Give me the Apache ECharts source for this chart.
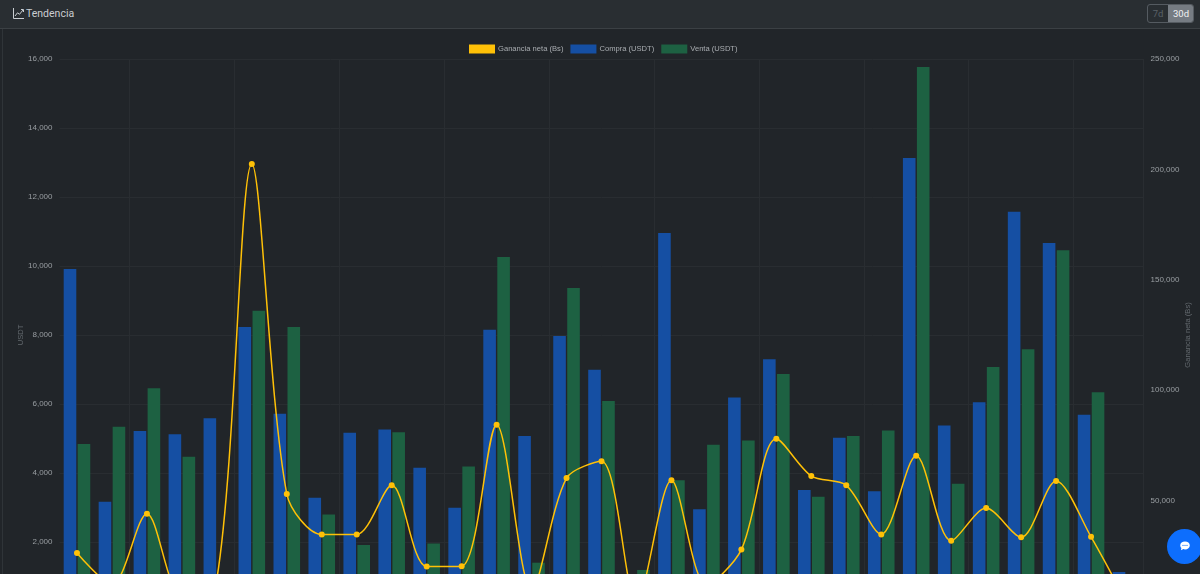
<!DOCTYPE html>
<html>
<head>
<meta charset="utf-8">
<script src="https://cdn.jsdelivr.net/npm/echarts@6/dist/echarts.min.js"></script>
<style>
html,body{margin:0;padding:0;width:1200px;height:574px;overflow:hidden;background:#212529;font-family:"Liberation Sans",Arial,sans-serif}
#chart{position:absolute;left:0;top:0;width:1200px;height:660px}
#head{position:absolute;left:0;top:0;width:1200px;height:28px;background:#292e32;border-bottom:1px solid #3b4044;z-index:2}
#edge{position:absolute;left:2px;top:29px;width:1px;height:545px;background:#2f3438;z-index:2}
#title{position:absolute;left:26px;top:6px;font:10.5px/16px Roboto,"Noto Sans",sans-serif;color:#c9cdd1}
#ico{position:absolute;left:13px;top:8px}
#btns{position:absolute;left:1147px;top:4px;width:47px;height:19px;border:1px solid #555b61;border-radius:3px;box-sizing:border-box;overflow:hidden;font:9.5px/17px Roboto,"Noto Sans",sans-serif}
#b7{position:absolute;left:0;top:0;width:20px;height:17px;text-align:center;color:#5a6167}
#b30{position:absolute;left:20px;top:0;width:26px;height:17px;text-align:center;color:#f1f2f3;background:#767c83}
#fab{position:absolute;left:1167px;top:529px;width:35px;height:35px;border-radius:50%;background:#0d6efd;z-index:3}
#fab svg{position:absolute;left:13px;top:12px}
</style>
</head>
<body>
<div id="chart"></div>
<div id="head">
  <svg id="ico" width="11" height="11" viewBox="0 0 11 11"><path d="M.5 0V10.5H11" fill="none" stroke="#c9cdd1" stroke-width="1"/><path d="M2 8L4.5 4.8 6.5 6.3 10 2" fill="none" stroke="#c9cdd1" stroke-width="1"/><path d="M8 1.5H10.5V4" fill="none" stroke="#c9cdd1" stroke-width="1"/></svg>
  <div id="title">Tendencia</div>
  <div id="btns"><div id="b7">7d</div><div id="b30">30d</div></div>
</div>
<div id="edge"></div>
<div id="fab"><svg width="10" height="10" viewBox="0 0 10 10"><path d="M5 .5C2.3.5.2 2.2.2 4.4c0 1 .5 1.9 1.2 2.6L.9 9.3l2.5-1.2c.5.2 1 .3 1.6.3 2.7 0 4.8-1.8 4.8-4S7.7.5 5 .5z" fill="#fff"/><circle cx="3" cy="4.4" r=".55" fill="#0d6efd"/><circle cx="5" cy="4.4" r=".55" fill="#0d6efd"/><circle cx="7" cy="4.4" r=".55" fill="#0d6efd"/></svg></div>
<script>
const categories = ['1','2','3','4','5','6','7','8','9','10','11','12','13','14','15','16','17','18','19','20','21','22','23','24','25','26','27','28','29','30','31'];
const gananciaNeta = [26300,12000,44100,7000,14500,202400,53000,34600,34650,56900,20100,20250,84400,9500,60200,67800,4000,59200,11800,27800,78000,61100,56900,34700,70300,31800,46600,33400,58900,33600,4500];
const compra = [9910,3170,5220,5120,5590,8230,5720,3280,5170,5260,4150,2990,8150,5070,7970,6990,800,10960,2950,6190,7300,3510,5020,3470,13130,5380,6050,11570,10670,5690,1130];
const venta = [4840,5340,6460,4470,900,8700,8230,2800,1910,5180,1960,4190,10260,1400,9360,6090,1190,3790,4820,4940,6870,3310,5070,5230,15770,3690,7070,7590,10460,6340,500];
const yTicksLeft = {min:0,max:16000,interval:2000};
const yTicksRight = {min:0,max:250000,interval:50000};
const fmt = v => v.toLocaleString('en-US');
const labelFont = '"Liberation Sans",Arial,sans-serif';
const chart = echarts.init(document.getElementById('chart'), null, {renderer:'canvas'});
chart.setOption({
  animation:false,
  backgroundColor:'#212529',
  legend:{
    left:464, top:39.5, itemWidth:26, itemHeight:9, itemGap:7,
    icon:'rect',
    data:['Ganancia neta (Bs)','Compra (USDT)','Venta (USDT)'],
    textStyle:{color:'#a9adb1',fontSize:7.6,fontFamily:labelFont,padding:[0,0,0,-2]}
  },
  grid:{left:59.5,top:59,width:1084,height:552,outerBoundsMode:'none'},
  xAxis:{
    type:'category',data:categories,
    axisLine:{show:false},axisTick:{show:false},axisLabel:{show:false},
    splitLine:{show:true,interval:i=>i%3===2,lineStyle:{color:'#292d31',width:1}}
  },
  yAxis:[
    {type:'value',...yTicksLeft,position:'left',name:'USDT',nameLocation:'middle',nameGap:35,nameMoveOverlap:false,
     nameTextStyle:{color:'#62686d',fontSize:7.6,fontFamily:labelFont},
     axisLine:{show:false},axisTick:{show:false},
     axisLabel:{color:'#9a9fa3',fontSize:8,margin:7,formatter:fmt,fontFamily:labelFont},
     splitLine:{lineStyle:{color:'#292d31',width:1}}},
    {type:'value',...yTicksRight,position:'right',name:'Ganancia neta (Bs)',nameLocation:'middle',nameGap:40,nameMoveOverlap:false,
     nameTextStyle:{color:'#62686d',fontSize:7.6,fontFamily:labelFont},
     axisLine:{show:false},axisTick:{show:false},
     axisLabel:{color:'#9a9fa3',fontSize:8,margin:7,formatter:fmt,fontFamily:labelFont},
     splitLine:{show:false}}
  ],
  series:[
    {name:'Ganancia neta (Bs)',type:'line',yAxisIndex:1,data:gananciaNeta,smooth:0.3,z:5,
     symbol:'circle',symbolSize:6,showSymbol:true,
     lineStyle:{color:'#ffc107',width:1.5},itemStyle:{color:'#ffc107'}},
    {name:'Compra (USDT)',type:'bar',yAxisIndex:0,data:compra,barWidth:12.6,barGap:'11%',z:2,
     itemStyle:{color:'#154fa3'}},
    {name:'Venta (USDT)',type:'bar',yAxisIndex:0,data:venta,barWidth:12.6,barGap:'11%',z:2,
     itemStyle:{color:'#1d6142'}}
  ]
});
</script>
</body>
</html>
